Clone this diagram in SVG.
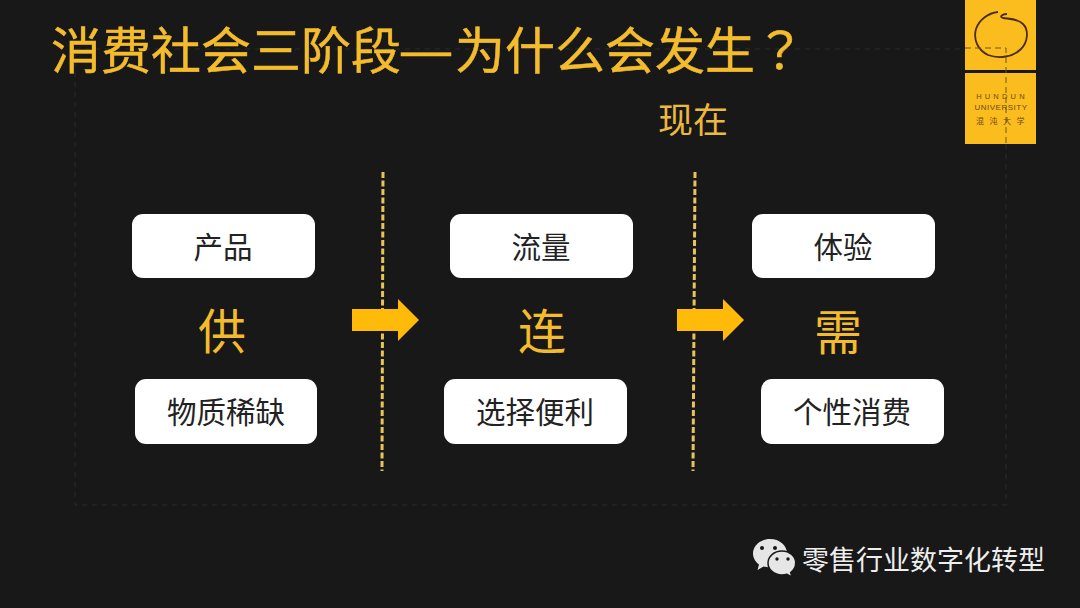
<svg xmlns="http://www.w3.org/2000/svg" width="1080" height="608" viewBox="0 0 1080 608">
<style>
text{font-family:"Noto Sans CJK SC","Liberation Sans",sans-serif}
.box{fill:#fff}
.lbl{font-size:29.500px;fill:#222;text-anchor:middle}
.big{font-size:48px;fill:#f4bc2c;text-anchor:middle}
.dash{fill:none;stroke:#e8c25a;stroke-width:3;stroke-dasharray:6 2.500}
.arrow{fill:#ffba0a}
.faint{fill:none;stroke:#2a2a2a;stroke-width:1;stroke-dasharray:5 5}
.lg{fill:#6b4a1a;text-anchor:middle}
</style>
<rect width="1080" height="608" fill="#181818"/>
<g id="frame"><path class="faint" d="M75 49H965M1006 144V505H75V49"/></g>
<text id="title" x="51" y="69" font-size="50" fill="#f4bc2c" stroke="#f4bc2c" stroke-width="0.500">消费社会三阶段<tspan dy="-2" style="font-family:'Liberation Sans',sans-serif">—</tspan><tspan dy="2" dx="4">为什么会发生</tspan><tspan style="font-family:'Noto Sans CJK TC',sans-serif">？</tspan></text>
<text id="now" x="693" y="133" font-size="35" fill="#ecb93f" text-anchor="middle">现在</text>
<g id="logo">
<rect x="965" y="0" width="71" height="70" fill="#fbbc1e"/>
<rect x="965" y="73" width="71" height="71" fill="#fbbc1e"/>
<path d="M998 12C988 13 979 20 976 29C973 40 978 50 988 55C999 59 1013 57 1021 49C1028 42 1029 30 1023 24C1017 18 1008 19 1003 18C999 17 1002 14 1007 14" fill="none" stroke="#4a2c14" stroke-width="1.800"/>
<path d="M965 48H1006V144" fill="none" stroke="#6b5a20" stroke-width="1" stroke-dasharray="6 4"/>
<text class="lg" x="1002" y="99" font-size="7.500" letter-spacing="3.200" style="font-family:'Liberation Sans',sans-serif">HUNDUN</text>
<text class="lg" x="1001" y="110" font-size="8" letter-spacing="0.500" style="font-family:'Liberation Sans',sans-serif">UNIVERSITY</text>
<text class="lg" x="1003" y="124" font-size="8" letter-spacing="5.500">混沌大学</text>
</g>
<g id="connectors">
<path class="dash" d="M383 172L382 471"/>
<path class="dash" d="M695 172L693 471"/>
<path class="arrow" d="M352 309H398V299L419 320L398 341V331H352Z"/>
<path class="arrow" d="M677 309H723V299L744 320L723 341V331H677Z"/>
</g>
<g id="node-product"><rect class="box" x="132" y="214" width="183" height="64" rx="11"/><text class="lbl" x="223" y="258">产品</text></g>
<g id="node-supply"><text class="big" x="222" y="349">供</text></g>
<g id="node-scarce"><rect class="box" x="135" y="379" width="182" height="65" rx="11"/><text class="lbl" x="226" y="423">物质稀缺</text></g>
<g id="node-traffic"><rect class="box" x="450" y="214" width="183" height="64" rx="11"/><text class="lbl" x="541" y="258">流量</text></g>
<g id="node-link"><text class="big" x="542" y="349">连</text></g>
<g id="node-choice"><rect class="box" x="444" y="379" width="183" height="65" rx="11"/><text class="lbl" x="535" y="423">选择便利</text></g>
<g id="node-exp"><rect class="box" x="752" y="214" width="183" height="64" rx="11"/><text class="lbl" x="843" y="258">体验</text></g>
<g id="node-demand"><text class="big" x="838" y="350">需</text></g>
<g id="node-personal"><rect class="box" x="761" y="379" width="183" height="65" rx="11"/><text class="lbl" x="852" y="423">个性消费</text></g>
<g id="watermark">
<path d="M770 539c-9.500 0-17 6.500-17 14.500 0 4.500 2.500 8.500 6 11l-1.500 5.500 6-3.500c2 .5 4 .8 6.500 .8 9.500 0 17-6.500 17-14 0-8-7.500-14.300-17-14.300Z" fill="#e6e6e6"/>
<path d="M782 551c-8 0-14 5.500-14 12s6 12 14 12c1.700 0 3.500-.3 5-.8l5 3-1.300-4.700c3-2.300 5-5.700 5-9.500 0-6.500-6-12-13.700-12Z" fill="#e6e6e6" stroke="#181818" stroke-width="1.500"/>
<circle cx="762" cy="548" r="2" fill="#181818"/><circle cx="775" cy="548" r="2" fill="#181818"/>
<circle cx="777" cy="559" r="1.700" fill="#181818"/><circle cx="788" cy="559" r="1.700" fill="#181818"/>
<text x="802" y="570" font-size="27" fill="#eee">零售行业数字化转型</text>
</g>
</svg>
